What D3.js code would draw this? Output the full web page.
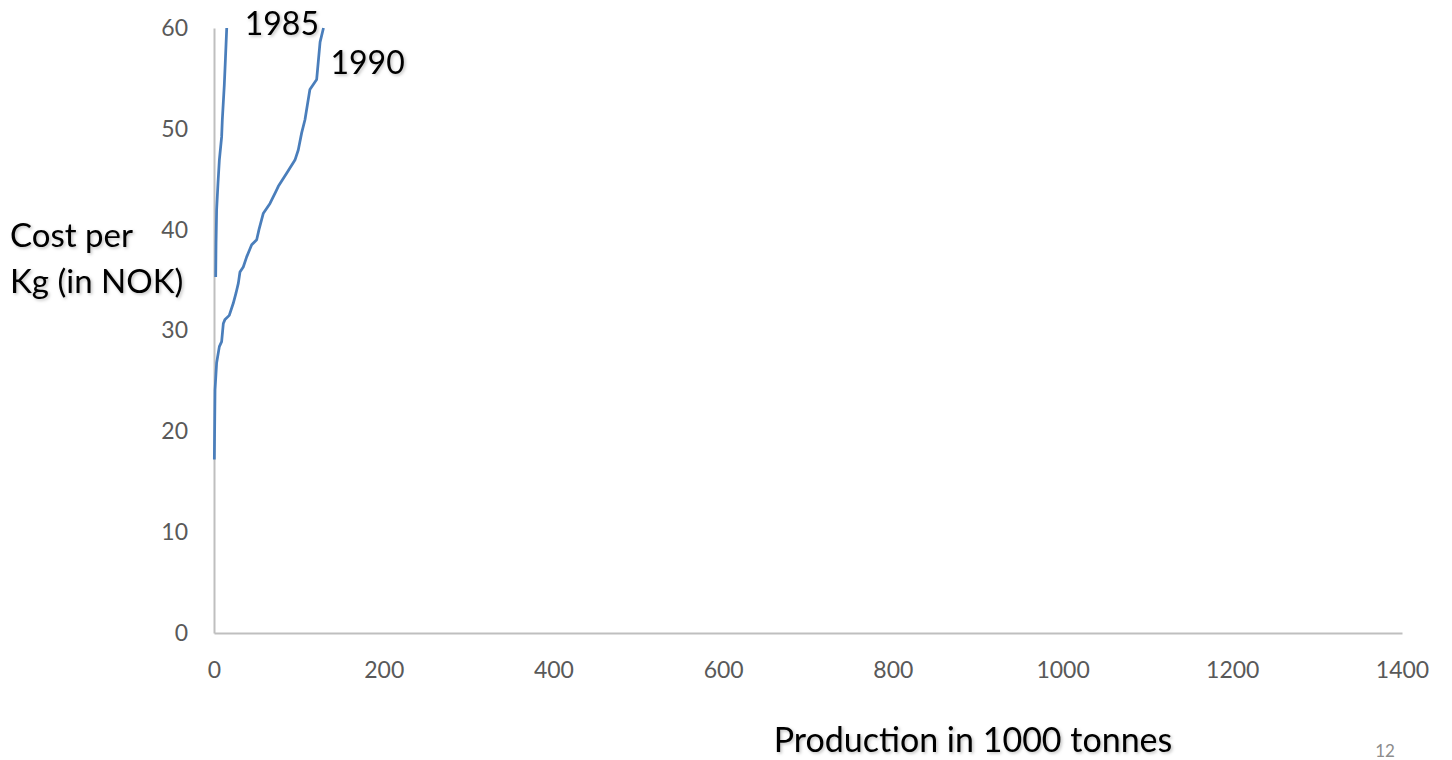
<!DOCTYPE html>
<html>
<head>
<meta charset="utf-8">
<script src="https://cdn.jsdelivr.net/npm/d3@7"></script>
<style>
  html, body { margin: 0; padding: 0; background: #ffffff; }
  svg { display: block; }
</style>
</head>
<body>
<svg id="chart" width="1452" height="760"></svg>
<script>
// ---- data ----
const xTicks = [0, 200, 400, 600, 800, 1000, 1200, 1400];
const yTicks = [0, 10, 20, 30, 40, 50, 60];

const series1985Label = "1985";
const prod1985 = [2, 2.4, 3.1, 4.7, 6.3, 9, 9.8, 12.1, 13.5, 15];
const cost1985 = [35.3, 38.7, 42, 44.6, 46.9, 49.2, 50.9, 54.3, 57, 60];

const series1990Label = "1990";
const prod1990 = [0.4, 1.2, 3.1, 6.3, 9, 11, 13, 18, 22.7, 25.9, 28.7, 30.6, 34.5, 38.5, 44.4, 50.3, 53, 58, 66, 73, 75.8, 85.6, 95.4, 99.3, 103.3, 107.2, 113, 117, 121, 125, 129];
const cost1990 = [17.2, 24.1, 26.8, 28.4, 28.9, 30.7, 31.1, 31.5, 32.7, 33.7, 34.7, 35.8, 36.3, 37.3, 38.5, 39.0, 40.0, 41.6, 42.6, 43.8, 44.3, 45.6, 46.9, 47.9, 49.6, 50.9, 53.9, 54.4, 54.9, 58.6, 60];

const xTitle = "Production in 1000 tonnes";
const yTitleLines = ["Cost per", "Kg (in NOK)"];
const pageNumber = "12";

// ---- drawing ----
const svg = d3.select("#chart");
const FONT = "Lato, 'Open Sans', sans-serif";

const x = d3.scaleLinear().domain([0, 1400]).range([214, 1402]);
const y = d3.scaleLinear().domain([0, 60]).range([633, 28]);

const defs = svg.append("defs");
const f = defs.append("filter").attr("id", "shadow").attr("x", "-20%").attr("y", "-20%").attr("width", "140%").attr("height", "140%");
f.append("feDropShadow").attr("dx", 1.5).attr("dy", 1.5).attr("stdDeviation", 1.5).attr("flood-color", "#000").attr("flood-opacity", 0.25);

// axes
const yAxis = svg.append("g")
  .attr("transform", `translate(${x(0)},0)`)
  .call(d3.axisLeft(y).tickValues(yTicks).tickSize(0).tickPadding(26).tickFormat(d3.format("d")));
const xAxis = svg.append("g")
  .attr("transform", `translate(0,${y(0)})`)
  .call(d3.axisBottom(x).tickValues(xTicks).tickSize(0).tickPadding(29).tickFormat(d3.format("d")));

[xAxis, yAxis].forEach(g => {
  g.select(".domain").attr("stroke", "#bfbfbf").attr("stroke-width", 2);
  g.selectAll("text").attr("fill", "#595959").style("font-family", FONT).style("font-size", "23px");
});

// lines
const line = d3.line().x(d => x(d[0])).y(d => y(d[1]));
const pts1985 = prod1985.map((p, i) => [p, cost1985[i]]);
const pts1990 = prod1990.map((p, i) => [p, cost1990[i]]);

svg.append("path").datum(pts1985).attr("d", line)
  .attr("fill", "none").attr("stroke", "#4a7ebb").attr("stroke-width", 2.75).attr("stroke-linejoin", "round");
svg.append("path").datum(pts1990).attr("d", line)
  .attr("fill", "none").attr("stroke", "#4a7ebb").attr("stroke-width", 2.75).attr("stroke-linejoin", "round");

// series labels
svg.append("text").attr("x", x(15) + 18).attr("y", 35)
  .style("font-family", FONT).style("font-size", "32px").attr("fill", "#000")
  .attr("filter", "url(#shadow)").text(series1985Label);
svg.append("text").attr("x", x(129) + 7).attr("y", 74)
  .style("font-family", FONT).style("font-size", "32px").attr("fill", "#000")
  .attr("filter", "url(#shadow)").text(series1990Label);

// axis titles
const yt = svg.append("text").attr("x", 10).attr("y", 247)
  .style("font-family", FONT).style("font-size", "33px").attr("fill", "#000")
  .attr("filter", "url(#shadow)");
yTitleLines.forEach((t, i) => {
  yt.append("tspan").attr("x", 10).attr("dy", i === 0 ? 0 : 46).text(t);
});

svg.append("text").attr("x", 973).attr("y", 752).attr("text-anchor", "middle")
  .style("font-family", FONT).style("font-size", "34px").attr("fill", "#000")
  .attr("filter", "url(#shadow)").text(xTitle);

svg.append("text").attr("x", 1385).attr("y", 757).attr("text-anchor", "middle")
  .style("font-family", FONT).style("font-size", "17px").attr("fill", "#8c8c8c").text(pageNumber);
</script>
</body>
</html>
